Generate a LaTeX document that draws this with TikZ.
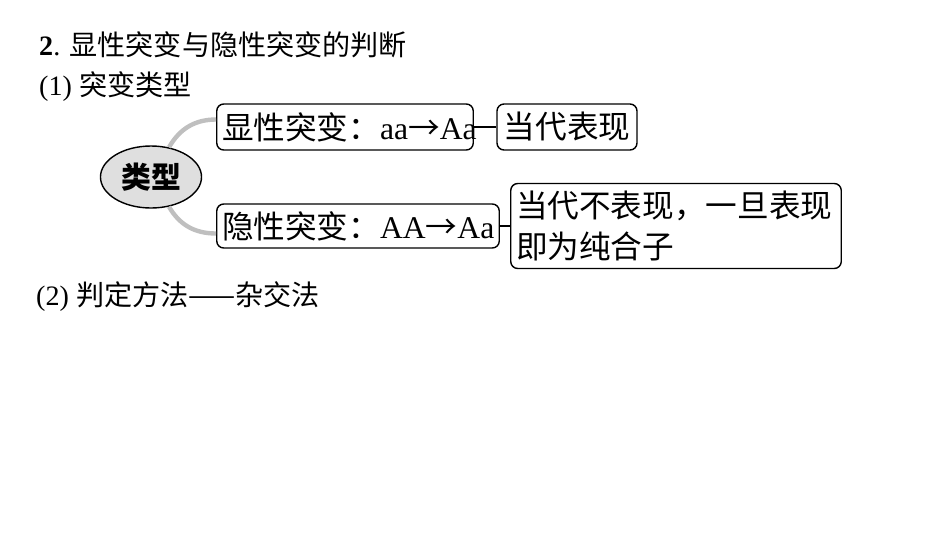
\documentclass[tikz,border=0pt]{standalone}
\usepackage{fontspec}
\setmainfont{Liberation Serif}
\newfontfamily\cjk{Noto Sans CJK SC}
\usetikzlibrary{shapes,positioning}
\tikzset{
    box/.style={rectangle, draw, rounded corners=4pt, thick, inner sep=3pt, align=left, font=\fontsize{18}{23}\selectfont},
    link/.style={draw=gray!50, line width=2.5pt}
}
\begin{document}
\begin{tikzpicture}[x=0.02cm, y=-0.02cm]
    \useasboundingbox (0,0) rectangle (950,535);

    %-----Headings-----
    \node [anchor=west, font=\fontsize{16}{18}\selectfont] (title) at (33,45) {\textbf{2}. {\cjk 显性突变与隐性突变的判断}};
    \node [anchor=west, font=\fontsize{16}{18}\selectfont] (part1) at (33,87) {(1) {\cjk 突变类型}};
    \node [anchor=west, font=\fontsize{16}{18}\selectfont] (part2) at (30,297) {(2) {\cjk 判定方法——杂交法}};

    %-----Tree-----
    % Centre
    \node [ellipse, draw, thick, fill=gray!25, minimum width=88*0.02cm, minimum height=62*0.02cm, font=\fontsize{17}{17}\selectfont\cjk\bfseries] (kind) at (151,177) {类型};

    % Dominant
    \node [box, text width=246*0.02cm, minimum height=46*0.02cm] (dom) at (345,127) {{\cjk 显性突变：}aa{\cjk →}Aa};
    \node [box, minimum width=140*0.02cm, minimum height=46*0.02cm] (domres) at (567,127) {\cjk 当代表现};

    % Recessive
    \node [box, text width=272*0.02cm, minimum height=44*0.02cm] (rec) at (358,226) {{\cjk 隐性突变：}AA{\cjk →}Aa};
    \node [box, text width=320*0.02cm, minimum height=85*0.02cm] (recres) at (676,226) {\cjk 当代不表现，一旦表现\\\cjk 即为纯合子};

    %-----Links-----
    \draw [link] (kind.north) ++(18,2) to[out=60, in=180] ([yshift=0.15cm]dom.west);
    \draw [link] (kind.south) ++(18,-2) to[out=-60, in=180] ([yshift=-0.15cm]rec.west);
    \draw [thick] (dom.east) -- (domres.west);
    \draw [thick] (rec.east) -- (recres.west);
\end{tikzpicture}
\end{document}
